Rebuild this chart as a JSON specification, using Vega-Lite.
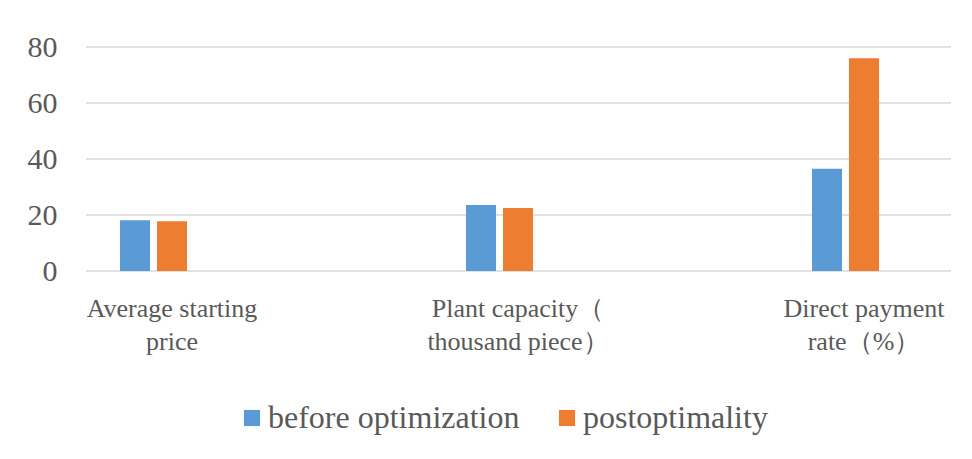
{
  "$schema": "https://vega.github.io/schema/vega-lite/v6.json",
  "width": 865,
  "height": 224,
  "autosize": {"type": "none"},
  "padding": {"left": 86, "top": 47, "right": 21, "bottom": 188},
  "background": "white",
  "config": {"view": {"stroke": null}, "font": "Liberation Serif"},
  "datasets": {
    "bars": [
      {"category": "Average starting price", "series": "before optimization", "value": 18.1},
      {"category": "Average starting price", "series": "postoptimality", "value": 17.8},
      {"category": "Plant capacity（thousand piece）", "series": "before optimization", "value": 23.6},
      {"category": "Plant capacity（thousand piece）", "series": "postoptimality", "value": 22.5},
      {"category": "Direct payment rate（%）", "series": "before optimization", "value": 36.5},
      {"category": "Direct payment rate（%）", "series": "postoptimality", "value": 76.0}
    ],
    "grid": [
      {"tick": 0}, {"tick": 20}, {"tick": 40}, {"tick": 60}, {"tick": 80}
    ]
  },
  "layer": [
    {
      "data": {"name": "grid"},
      "mark": {"type": "rule", "color": "#d9d9d9", "strokeWidth": 1.5},
      "encoding": {
        "y": {"field": "tick", "type": "quantitative"}
      }
    },
    {
      "data": {"name": "bars"},
      "mark": {"type": "bar"},
      "encoding": {
        "x": {
          "field": "category",
          "type": "nominal",
          "sort": null,
          "scale": {"paddingInner": 0, "paddingOuter": 0, "range": [-87, 951]},
          "axis": {
            "title": null,
            "domain": false,
            "ticks": false,
            "tickSize": 0,
            "grid": false,
            "labelAngle": 0,
            "labelPadding": 24,
            "labelFontSize": 26,
            "labelFont": "Liberation Serif",
            "labelColor": "#595959",
            "labelLineHeight": 33,
            "labelLimit": 400,
            "labelOverlap": false,
            "labelExpr": "datum.value == 'Average starting price' ? ['Average starting', 'price'] : datum.value == 'Plant capacity（thousand piece）' ? ['Plant capacity（', 'thousand piece）'] : ['Direct payment', 'rate（%）']"
          }
        },
        "xOffset": {
          "field": "series",
          "type": "nominal",
          "scale": {"domain": ["before optimization", "postoptimality", "blank"], "paddingInner": 0.189, "paddingOuter": 0, "range": [121, 225]}
        },
        "y": {
          "field": "value",
          "type": "quantitative",
          "scale": {"domain": [0, 80]},
          "axis": {
            "title": null,
            "values": [0, 20, 40, 60, 80],
            "domain": false,
            "ticks": false,
            "tickSize": 0,
            "grid": false,
            "labelPadding": 29,
            "labelFontSize": 30,
            "labelFont": "Liberation Serif",
            "labelColor": "#595959"
          }
        },
        "color": {
          "field": "series",
          "type": "nominal",
          "scale": {"domain": ["before optimization", "postoptimality"], "range": ["#5B9BD5", "#ED7D31"]},
          "legend": {
            "title": null,
            "orient": "none",
            "legendX": 150,
            "legendY": 355,
            "direction": "horizontal",
            "symbolType": "square",
            "symbolSize": 260,
            "symbolStrokeWidth": 0,
            "labelFontSize": 32,
            "labelFont": "Liberation Serif",
            "labelColor": "#595959",
            "labelOffset": 0,
            "columnPadding": 31,
            "labelLimit": 400
          }
        }
      }
    }
  ]
}
